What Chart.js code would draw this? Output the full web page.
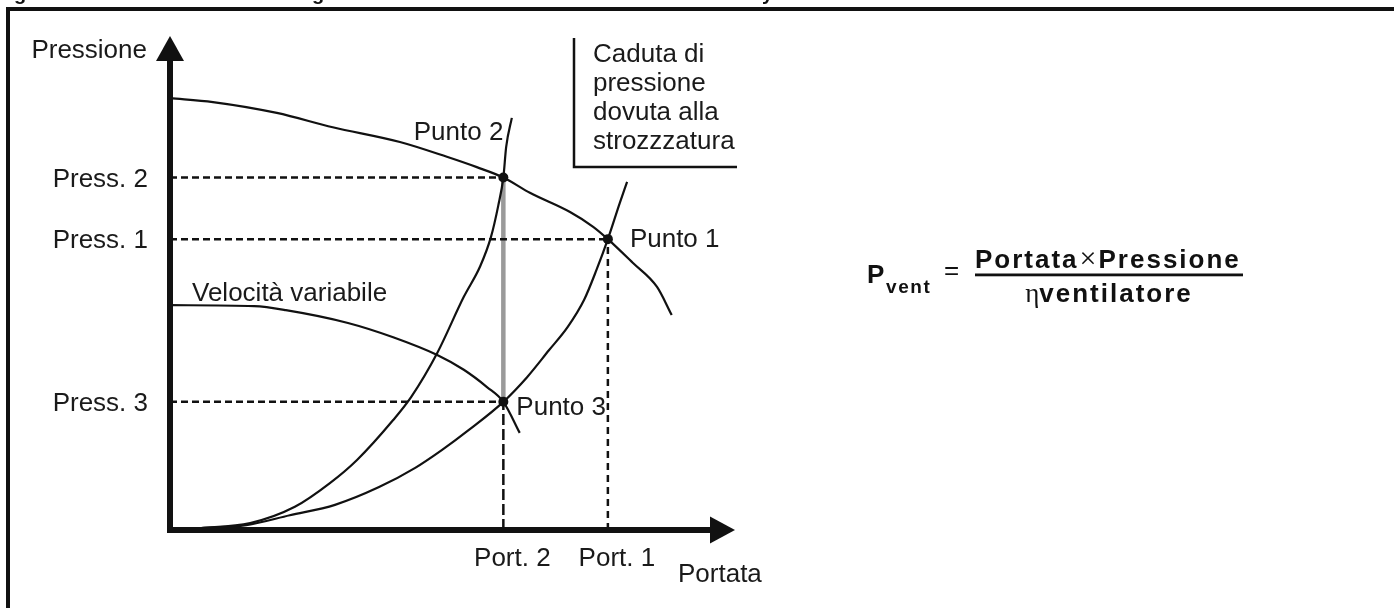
<!DOCTYPE html>
<html>
<head>
<meta charset="utf-8">
<script src="https://cdn.jsdelivr.net/npm/chart.js@4/dist/chart.umd.min.js"></script>
<style>
html,body{margin:0;padding:0;background:#fff;}
#wrap{width:1394px;height:608px;position:relative;}
</style>
</head>
<body>
<div id="wrap"><canvas id="c" width="1394" height="608"></canvas></div>
<script>
// ---- Data (arbitrary units: Portata 0-100, Pressione 0-100) ----
const fanFullX = [0, 7.6, 18.9, 28.8, 40.7, 49.0, 54.3, 59, 63.7, 70.8, 74.9, 77.5, 81.9, 86.2, 88.8];
const fanFullY = [87.6, 86.8, 84.6, 81.7, 78.7, 75.7, 73.6, 71.5, 68.4, 64.5, 61.5, 59, 54.2, 49.3, 43.6];

const fanVarX = [0, 14.9, 20.5, 31.5, 39.5, 47.3, 52, 56.1, 59, 61.9];
const fanVarY = [45.6, 45.4, 44.6, 42, 39.1, 35.5, 32.5, 29, 26, 19.7];

const sysThrottledX = [0, 5.5, 14.2, 22.1, 28.3, 33.1, 39.5, 42.7, 47.3, 52, 54.9, 56.8, 58.1, 59, 59.5, 60.5];
const sysThrottledY = [0, 0.4, 1.4, 4.7, 9.5, 14.2, 22.3, 27, 35.9, 47.3, 53.5, 59.4, 65.8, 71.5, 77.7, 83.6];

const sysOpenX = [0, 5.5, 13.5, 21.2, 29.2, 37, 43.4, 48.1, 52.9, 59, 63.2, 67.1, 70.4, 73.3, 75.5, 77.5, 79.6, 80.9];
const sysOpenY = [0, 0.4, 1, 3, 5.1, 8.7, 12.6, 16.2, 20.3, 26, 31, 36.5, 41.2, 46.7, 52.8, 59, 66.3, 70.6];

const pointNames = ['Punto 1', 'Punto 2', 'Punto 3'];
const pointX = [77.5, 59, 59];
const pointY = [59, 71.5, 26];

const pressLabels = ['Press. 2', 'Press. 1', 'Press. 3'];
const pressValues = [71.5, 59, 26];
const portLabels = ['Port. 2', 'Port. 1'];
const portValues = [59, 77.5];

const yAxisTitle = 'Pressione';
const xAxisTitle = 'Portata';
const varSpeedLabel = 'Velocità variabile';
const noteLines = ['Caduta di', 'pressione', 'dovuta alla', 'strozzzatura'];

// ---- helpers ----
const zip = (xs, ys) => xs.map((x, i) => ({x: x, y: ys[i]}));
const FONT = '"Liberation Sans", Arial, Helvetica, sans-serif';
const SERIF = '"Liberation Serif", "DejaVu Serif", serif';

const curveStyle = {showLine: true, pointRadius: 0, borderColor: '#111', borderWidth: 2.2, cubicInterpolationMode: 'monotone', fill: false, clip: false, order: 1};
const dashStyle = {showLine: true, pointRadius: 0, borderColor: '#111', borderWidth: 2.5, tension: 0, fill: false, clip: false, order: 2};

const datasets = [
  Object.assign({label: 'Intersezioni', data: zip(pointX, pointY), showLine: false, pointRadius: 5, pointBackgroundColor: '#111', pointBorderWidth: 0, clip: false, order: 0}),
  Object.assign({label: 'Ventilatore velocità piena', data: zip(fanFullX, fanFullY)}, curveStyle),
  Object.assign({label: 'Velocità variabile', data: zip(fanVarX, fanVarY)}, curveStyle),
  Object.assign({label: 'Sistema strozzato', data: zip(sysThrottledX, sysThrottledY)}, curveStyle),
  Object.assign({label: 'Sistema', data: zip(sysOpenX, sysOpenY)}, curveStyle),
  // dashed reference lines
  Object.assign({label: 'h2', data: [{x: 0, y: pressValues[0]}, {x: portValues[0], y: pressValues[0]}], borderDash: [7, 4]}, dashStyle),
  Object.assign({label: 'h1', data: [{x: 0, y: pressValues[1]}, {x: portValues[1], y: pressValues[1]}], borderDash: [7, 4]}, dashStyle),
  Object.assign({label: 'h3', data: [{x: 0, y: pressValues[2]}, {x: portValues[0], y: pressValues[2]}], borderDash: [7, 4]}, dashStyle),
  Object.assign({label: 'v1', data: [{x: portValues[1], y: 0}, {x: portValues[1], y: pressValues[1]}], borderDash: [7, 5]}, dashStyle),
  Object.assign({label: 'v2', data: [{x: portValues[0], y: 0}, {x: portValues[0], y: pressValues[2]}], borderDash: [11, 4]}, dashStyle),
  // grey pressure drop line
  {label: 'Caduta', data: [{x: portValues[0], y: pressValues[2]}, {x: portValues[0], y: pressValues[0]}], showLine: true, pointRadius: 0, borderColor: '#9a9a9a', borderWidth: 4.5, clip: false, order: 3}
];

function setLS(ctx, v) { try { ctx.letterSpacing = v; } catch (e) {} }

const decor = {
  id: 'decor',
  beforeDraw(chart) {
    const ctx = chart.ctx;
    ctx.save();
    ctx.fillStyle = '#fff';
    ctx.fillRect(0, 0, chart.width, chart.height);
    ctx.restore();
  },
  afterDatasetsDraw(chart) {
    const ctx = chart.ctx;
    const xs = chart.scales.x, ys = chart.scales.y;
    const x0 = xs.getPixelForValue(0), y0 = ys.getPixelForValue(0);
    const xEnd = xs.getPixelForValue(100), yEnd = ys.getPixelForValue(100);
    ctx.save();
    ctx.fillStyle = '#111';
    ctx.strokeStyle = '#111';
    // cut-off caption above the frame (only descenders visible)
    ctx.font = 'bold 20px ' + FONT;
    ctx.textBaseline = 'alphabetic';
    ctx.textAlign = 'left';
    ctx.fillText('g', 14, 0);
    ctx.fillText('g', 312, 0);
    ctx.fillText('y', 762, 0);
    // frame
    ctx.fillRect(6, 7, chart.width - 6, 4);
    ctx.fillRect(6, 7, 4, chart.height - 7);
    // y axis
    ctx.fillRect(x0 - 3, yEnd + 23, 6, y0 - yEnd - 20);
    ctx.beginPath();
    ctx.moveTo(x0, yEnd - 1);
    ctx.lineTo(x0 + 14, yEnd + 24);
    ctx.lineTo(x0 - 14, yEnd + 24);
    ctx.closePath();
    ctx.fill();
    // x axis
    ctx.fillRect(x0 - 3, y0 - 3, xEnd - x0 - 22, 6);
    ctx.beginPath();
    ctx.moveTo(xEnd, y0);
    ctx.lineTo(xEnd - 25, y0 - 13.5);
    ctx.lineTo(xEnd - 25, y0 + 13.5);
    ctx.closePath();
    ctx.fill();

    // texts
    ctx.fillStyle = '#1a1a1a';
    ctx.font = '26px ' + FONT;
    ctx.textAlign = 'right';
    ctx.fillText(yAxisTitle, x0 - 23, yEnd + 21);
    pressLabels.forEach((t, i) => ctx.fillText(t, x0 - 22, ys.getPixelForValue(pressValues[i]) + 9));
    ctx.textAlign = 'center';
    portLabels.forEach((t, i) => ctx.fillText(t, xs.getPixelForValue(portValues[i]) + 9, y0 + 36));
    ctx.textAlign = 'left';
    ctx.fillText(xAxisTitle, xEnd - 57, y0 + 52);

    // point labels
    const p1 = {x: xs.getPixelForValue(pointX[0]), y: ys.getPixelForValue(pointY[0])};
    const p2 = {x: xs.getPixelForValue(pointX[1]), y: ys.getPixelForValue(pointY[1])};
    const p3 = {x: xs.getPixelForValue(pointX[2]), y: ys.getPixelForValue(pointY[2])};
    ctx.textAlign = 'left';
    ctx.fillText(pointNames[0], p1.x + 22, p1.y + 8);
    ctx.textAlign = 'right';
    ctx.fillText(pointNames[1], p2.x, p2.y - 38);
    ctx.textAlign = 'left';
    ctx.fillText(pointNames[2], p3.x + 13, p3.y + 13);
    ctx.fillText(varSpeedLabel, x0 + 22, ys.getPixelForValue(fanVarY[0]) - 4);

    // note box
    noteLines.forEach((t, i) => ctx.fillText(t, 593, 62 + i * 29));
    ctx.lineWidth = 2.5;
    ctx.beginPath();
    ctx.moveTo(574, 38);
    ctx.lineTo(574, 167);
    ctx.lineTo(737, 167);
    ctx.stroke();

    // formula
    ctx.fillStyle = '#111';
    ctx.textAlign = 'left';
    ctx.font = 'bold 26px ' + FONT;
    ctx.fillText('P', 867, 283);
    ctx.font = 'bold 19px ' + FONT;
    setLS(ctx, '1.6px');
    ctx.fillText('vent', 886, 293);
    setLS(ctx, '0px');
    ctx.font = '26px ' + FONT;
    ctx.fillText('=', 944, 279);

    const fracL = 975, fracR = 1243, fracC = (fracL + fracR) / 2;
    // numerator
    setLS(ctx, '2px');
    ctx.font = 'bold 26px ' + FONT;
    const wA = ctx.measureText('Portata').width;
    ctx.fillText('Portata', fracL, 268);
    setLS(ctx, '0px');
    ctx.font = '30px ' + SERIF;
    const wX = ctx.measureText('\u00D7').width;
    ctx.fillText('\u00D7', fracL + wA + 1, 268);
    setLS(ctx, '2px');
    ctx.font = 'bold 26px ' + FONT;
    ctx.fillText('Pressione', fracL + wA + wX + 3, 268);
    // line
    ctx.fillRect(fracL, 273.5, fracR - fracL, 2.8);
    // denominator
    setLS(ctx, '0px');
    ctx.font = '27px ' + SERIF;
    const wEta = ctx.measureText('\u03B7').width;
    setLS(ctx, '2px');
    ctx.font = 'bold 26px ' + FONT;
    const wV = ctx.measureText('ventilatore').width;
    const dStart = fracC - (wEta + wV) / 2;
    setLS(ctx, '0px');
    ctx.font = '27px ' + SERIF;
    ctx.fillText('\u03B7', dStart, 302);
    setLS(ctx, '2px');
    ctx.font = 'bold 26px ' + FONT;
    ctx.fillText('ventilatore', dStart + wEta, 302);
    setLS(ctx, '0px');
    ctx.restore();
  }
};

new Chart(document.getElementById('c'), {
  type: 'scatter',
  data: {datasets: datasets},
  options: {
    responsive: false,
    animation: false,
    events: [],
    layout: {padding: {left: 170, top: 37, right: 659, bottom: 78}},
    plugins: {legend: {display: false}, tooltip: {enabled: false}, title: {display: false}},
    scales: {
      x: {type: 'linear', min: 0, max: 100, display: false},
      y: {type: 'linear', min: 0, max: 100, display: false}
    }
  },
  plugins: [decor]
});
</script>
</body>
</html>
